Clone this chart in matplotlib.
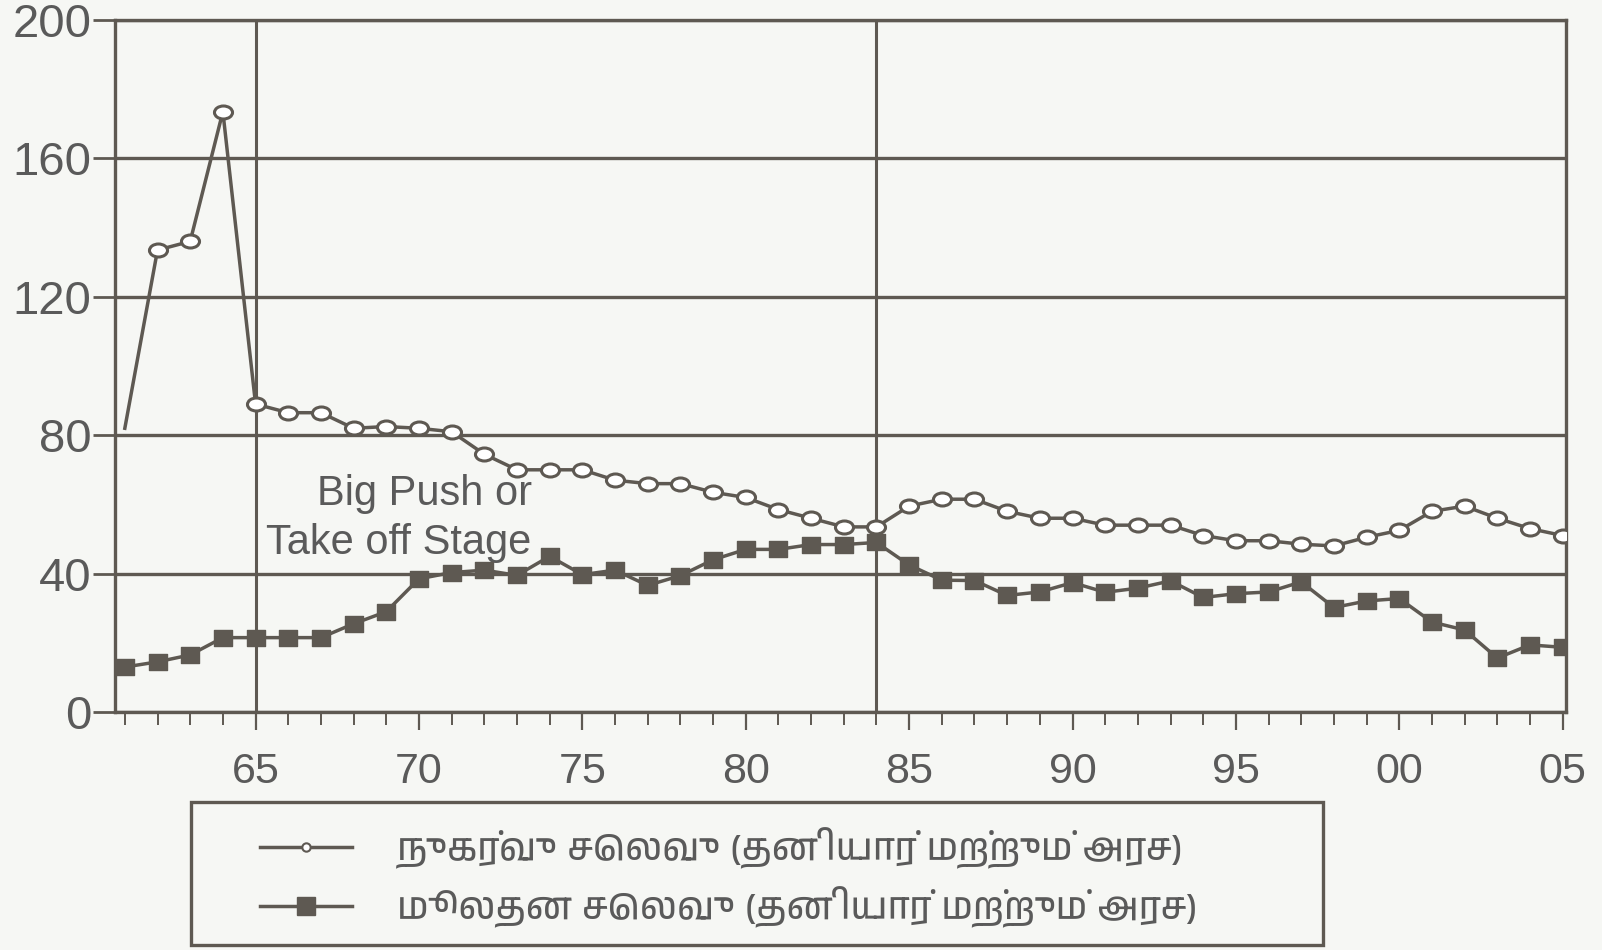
import matplotlib
matplotlib.use("Agg")
import matplotlib.pyplot as plt
from matplotlib import font_manager as fm
from matplotlib.ft2font import FT2Font
from matplotlib.lines import Line2D
from matplotlib.patches import Rectangle
from matplotlib.path import Path

# ---------------- data ----------------
years = list(range(1961, 2006))
consumption = [82, 133.5, 136, 173.5, 89, 86.5, 86.5, 82, 82.5, 82,
               81, 74.5, 70, 70, 70, 67, 66, 66, 63.5, 62,
               58.5, 56, 53.5, 53.5, 59.5, 61.5, 61.5, 58, 56, 56,
               54, 54, 54, 51, 49.5, 49.5, 48.5, 48, 50.5, 52.5,
               58, 59.5, 56, 53, 51]
capital = [13, 14.5, 16.5, 21.5, 21.5, 21.5, 21.5, 25.5, 29, 38.5,
           40.3, 41, 39.5, 45, 39.7, 41, 36.6, 39.4, 44, 47,
           47, 48.4, 48.4, 49, 42.5, 38.1, 38, 33.7, 34.7, 37.4,
           34.6, 35.8, 37.9, 33.1, 34.2, 34.7, 37.6, 30.2, 32.1, 32.8,
           26, 23.7, 15.6, 19.4, 18.7]
series_labels = ["நுகர்வு செலவு (தனியார் மற்றும் அரச)",
                 "மூலதன செலவு (தனியார் மற்றும் அரச)"]
y_ticks = [0, 40, 80, 120, 160, 200]
x_major = [1965, 1970, 1975, 1980, 1985, 1990, 1995, 2000, 2005]
x_major_labels = ["65", "70", "75", "80", "85", "90", "95", "00", "05"]
marker_lines = [1965, 1984]
annotation = "Big Push or\nTake off Stage"

# ---------------- fonts ----------------
def find_font_with(codepoint, prefer=None):
    found = []
    for f in fm.fontManager.ttflist:
        try:
            cmap = FT2Font(f.fname).get_charmap()
        except Exception:
            continue
        if codepoint in cmap:
            found.append(f.name)
    if not found:
        return None
    if prefer:
        for n in found:
            if prefer.lower() in n.lower():
                return n
    return found[0]

tamil_font = find_font_with(0x0BA8, prefer="Tamil")
latin_font = "Liberation Sans"
legend_family = [tamil_font, "DejaVu Sans"] if tamil_font else ["DejaVu Sans"]

# ---------------- marker shapes (scan is slightly wide) ----------------
_c = Path.unit_circle()
ellipse = Path(_c.vertices * [1.0, 0.72], _c.codes)
wide_sq = Path([(-1, -0.85), (1, -0.85), (1, 0.85), (-1, 0.85), (-1, -0.85)],
               [Path.MOVETO, Path.LINETO, Path.LINETO, Path.LINETO, Path.CLOSEPOLY])

# ---------------- style ----------------
bg = "#f6f7f4"
ink = "#5e5952"
txt = "#5a5a5a"

fig = plt.figure(figsize=(16.02, 9.5), dpi=100, facecolor=bg)
ax = fig.add_axes([0.0718, 0.2505, 0.9057, 0.7285])
ax.set_facecolor(bg)

ax.plot(years, consumption, color=ink, lw=2.5, marker=ellipse, ms=13,
        mfc="white", mec=ink, mew=2.2, markevery=list(range(1, len(years))),
        zorder=4)
ax.plot(years, capital, color=ink, lw=2.5, marker=wide_sq, ms=13,
        mfc=ink, mec=ink, zorder=4)

for xv in marker_lines:
    ax.axvline(xv, color=ink, lw=2.2, zorder=2)

ax.set_xlim(1960.7, 2005.1)
ax.set_ylim(0, 200)
ax.set_yticks(y_ticks)
ax.set_yticklabels([str(v) for v in y_ticks])
ax.yaxis.grid(True, color=ink, lw=2.4, zorder=1)
ax.set_axisbelow(True)

ax.set_xticks(x_major)
ax.set_xticklabels(x_major_labels)
ax.set_xticks(years, minor=True)

for s in ax.spines.values():
    s.set_color(ink)
    s.set_linewidth(2.4)

ax.tick_params(axis="y", which="major", length=16, width=2, color=ink,
               pad=1, labelsize=34, labelcolor=txt)
ax.tick_params(axis="x", which="major", length=13, width=1.6, color=ink,
               pad=16, labelsize=31, labelcolor=txt)
ax.tick_params(axis="x", which="minor", length=9, width=1.4, color=ink)
for lab in ax.get_xticklabels() + ax.get_yticklabels():
    lab.set_fontfamily(latin_font)

ax.text(1973.45, 56, annotation, ha="right", va="center", multialignment="right",
        fontsize=30, family=latin_font, color=txt, linespacing=1.3, zorder=3)

# ---------------- legend ----------------
fig.patches.append(Rectangle((191 / 1602, 0.0053), 1132 / 1602, 0.1505,
                             transform=fig.transFigure, fill=False,
                             edgecolor=ink, lw=2.4))
handles = [Line2D([], [], color=ink, lw=2.5, marker="o", ms=6, mfc="white",
                  mec=ink, mew=1.5),
           Line2D([], [], color=ink, lw=2.5, marker="s", ms=13, mfc=ink,
                  mec=ink)]
leg = fig.legend(handles, series_labels, loc="upper left",
                 bbox_to_anchor=(0.1625, 0.129), frameon=False,
                 prop={"family": legend_family, "size": 27},
                 handlelength=2.45, handletextpad=1.2, labelspacing=0.45,
                 borderpad=0, borderaxespad=0)
for t in leg.get_texts():
    t.set_color(txt)

fig.savefig("out.png", dpi=100, facecolor=bg)
